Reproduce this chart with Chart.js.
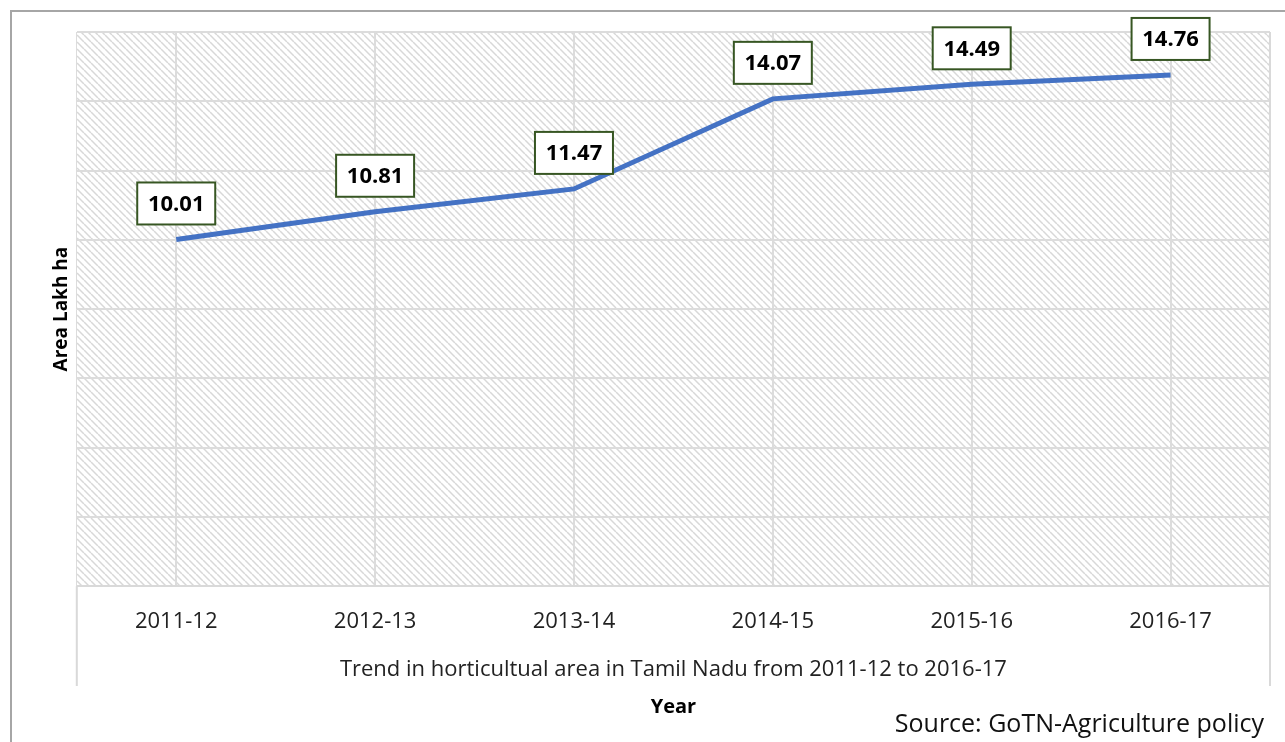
<!DOCTYPE html>
<html>
<head>
<meta charset="utf-8">
<script src="https://cdn.jsdelivr.net/npm/chart.js@4"></script>
<style>
  html, body { margin: 0; padding: 0; background: #fff; }
  canvas { display: block; }
</style>
</head>
<body>
<canvas id="trendChart" width="1285" height="742"></canvas>
<script>
// chart data
const years = ['2011-12', '2012-13', '2013-14', '2014-15', '2015-16', '2016-17'];
const areaLakhHa = [10.01, 10.81, 11.47, 14.07, 14.49, 14.76];
const yTicks = { min: 0, max: 16, step: 2 };

const FONT = "'Open Sans', 'Noto Sans', sans-serif";

// diagonal hatch behind the plot area + outer frame + source note
const decorPlugin = {
    id: 'decor',
    beforeDraw(chart) {
        const { ctx, chartArea } = chart;
        const s = 7;
        const tile = document.createElement('canvas');
        tile.width = s; tile.height = s;
        const t = tile.getContext('2d');
        t.strokeStyle = '#d8d8d8';
        t.lineWidth = 1.5;
        for (let k = -1; k <= 1; k++) {
            t.beginPath();
            t.moveTo(k * s, 0);
            t.lineTo(k * s + s, s);
            t.stroke();
        }
        ctx.save();
        ctx.fillStyle = ctx.createPattern(tile, 'repeat');
        ctx.fillRect(chartArea.left, chartArea.top, chartArea.right - chartArea.left, chartArea.bottom - chartArea.top);
        ctx.restore();
    },
    afterDraw(chart) {
        const { ctx, chartArea, scales } = chart;
        ctx.save();
        // side lines of the category band under the plot
        ctx.strokeStyle = '#d9d9d9';
        ctx.lineWidth = 2;
        ctx.beginPath();
        ctx.moveTo(chartArea.left, chartArea.bottom);
        ctx.lineTo(chartArea.left, scales.x.bottom + 2);
        ctx.moveTo(chartArea.right, chartArea.top);
        ctx.lineTo(chartArea.right, scales.x.bottom + 2);
        ctx.stroke();
        // outer frame (top and left edges only)
        ctx.strokeStyle = '#a6a6a6';
        ctx.lineWidth = 2;
        ctx.beginPath();
        ctx.moveTo(11, chart.height);
        ctx.lineTo(11, 11);
        ctx.lineTo(chart.width, 11);
        ctx.stroke();
        // source note
        ctx.fillStyle = '#111';
        ctx.font = `25px ${FONT}`;
        ctx.textAlign = 'right';
        ctx.textBaseline = 'alphabetic';
        ctx.fillText('Source: GoTN-Agriculture policy', 1264, 732);
        ctx.restore();
    }
};

// boxed value labels above each point
const boxLabelPlugin = {
    id: 'boxLabels',
    afterDatasetsDraw(chart) {
        const { ctx } = chart;
        const meta = chart.getDatasetMeta(0);
        ctx.save();
        ctx.font = `bold 22px ${FONT}`;
        ctx.textAlign = 'center';
        ctx.textBaseline = 'middle';
        meta.data.forEach((pt, i) => {
            const w = 78, h = 42;
            const cx = pt.x, cy = pt.y - 36;
            ctx.fillStyle = '#fff';
            ctx.fillRect(cx - w / 2, cy - h / 2, w, h);
            ctx.strokeStyle = '#375623';
            ctx.lineWidth = 2;
            ctx.strokeRect(cx - w / 2, cy - h / 2, w, h);
            ctx.fillStyle = '#000';
            ctx.fillText(areaLakhHa[i].toFixed(2), cx, cy + 1);
        });
        ctx.restore();
    }
};

new Chart(document.getElementById('trendChart'), {
    type: 'line',
    data: {
        labels: years,
        datasets: [{
            data: areaLakhHa,
            borderColor: '#4472c4',
            borderWidth: 5,
            pointRadius: 0,
            tension: 0,
            fill: false
        }]
    },
    options: {
        responsive: false,
        animation: false,
        devicePixelRatio: 1,
        layout: { padding: { top: 32, left: 46, right: 15, bottom: 23 } },
        plugins: {
            legend: { display: false },
            tooltip: { enabled: false }
        },
        scales: {
            x: {
                type: 'category',
                offset: true,
                grid: { offset: false, color: '#dcdcdc', lineWidth: 2, drawTicks: false },
                border: { color: '#d9d9d9', width: 2 },
                ticks: { color: '#222', font: { family: FONT, size: 22 }, padding: 22, maxRotation: 0 },
                title: {
                    display: true,
                    text: 'Trend in horticultual area in Tamil Nadu from 2011-12 to 2016-17',
                    color: '#222',
                    font: { family: FONT, size: 22 },
                    padding: { top: 0, bottom: 1 }
                }
            },
            x2: {
                type: 'category',
                position: 'bottom',
                weight: 1,
                labels: years,
                grid: { display: false, drawTicks: false },
                border: { display: false },
                ticks: { display: false },
                title: {
                    display: true,
                    text: 'Year',
                    color: '#000',
                    font: { family: FONT, size: 20, weight: 'bold' },
                    padding: { top: 11, bottom: 0 }
                }
            },
            y: {
                min: yTicks.min,
                max: yTicks.max,
                ticks: { display: false, stepSize: yTicks.step },
                grid: { color: '#dcdcdc', lineWidth: 2, drawTicks: false },
                border: { color: '#dcdcdc', width: 1 },
                title: {
                    display: true,
                    text: 'Area Lakh ha',
                    color: '#000',
                    font: { family: FONT, size: 19, weight: 'bold' },
                    padding: { top: 4, bottom: 4 }
                }
            }
        }
    },
    plugins: [decorPlugin, boxLabelPlugin]
});
</script>
</body>
</html>
